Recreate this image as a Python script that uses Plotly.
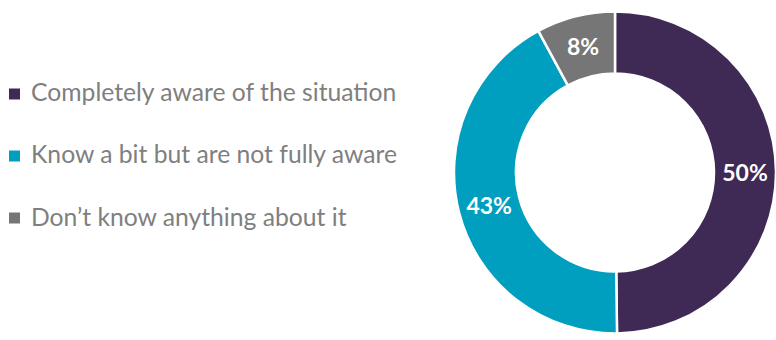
import plotly.graph_objects as go

categories = ["Completely aware of the situation", "Know a bit but are not fully aware", "Don’t know anything about it"]
values = [49.8, 42.3, 7.9]
value_labels = ["50%", "43%", "8%"]
colors = ["#3F2A56", "#009EBF", "#767676"]

W, H = 776, 340
cx, cy, r = 615, 172.5, 161

fig = go.Figure()
fig.add_trace(go.Pie(
    labels=categories, values=values, text=value_labels,
    textinfo="text", textposition="inside", insidetextorientation="horizontal",
    hole=0.615, sort=False, direction="clockwise", rotation=0,
    marker=dict(colors=colors, line=dict(color="white", width=2.5)),
    insidetextfont=dict(family="Lato", size=23, color="white", weight="bold"),
    domain=dict(x=[(cx - r) / W, min(1, (cx + r) / W)], y=[(H - cy - r) / H, (H - cy + r) / H]),
    showlegend=False, hoverinfo="label+percent",
))

# legend drawn as annotations + square markers
row0, row_gap = 92, 62
annotations, shapes = [], []
for i, (name, col) in enumerate(zip(categories, colors)):
    yc = row0 + row_gap * i
    annotations.append(dict(
        x=29 / W, y=1 - yc / H, xref="paper", yref="paper",
        xanchor="left", yanchor="middle", showarrow=False, text=name,
        font=dict(family="Lato", size=24.7, color="#7F7F7F"),
    ))
    shapes.append(dict(
        type="rect", xref="paper", yref="paper",
        x0=9 / W, x1=20 / W, y0=1 - (yc + 7.5) / H, y1=1 - (yc - 3.5) / H,
        fillcolor=col, line=dict(width=0),
    ))

fig.update_layout(
    width=W, height=H, margin=dict(l=0, r=0, t=0, b=0),
    paper_bgcolor="white", plot_bgcolor="white",
    showlegend=False,
    annotations=annotations, shapes=shapes,
)
fig.write_html("out.html")
